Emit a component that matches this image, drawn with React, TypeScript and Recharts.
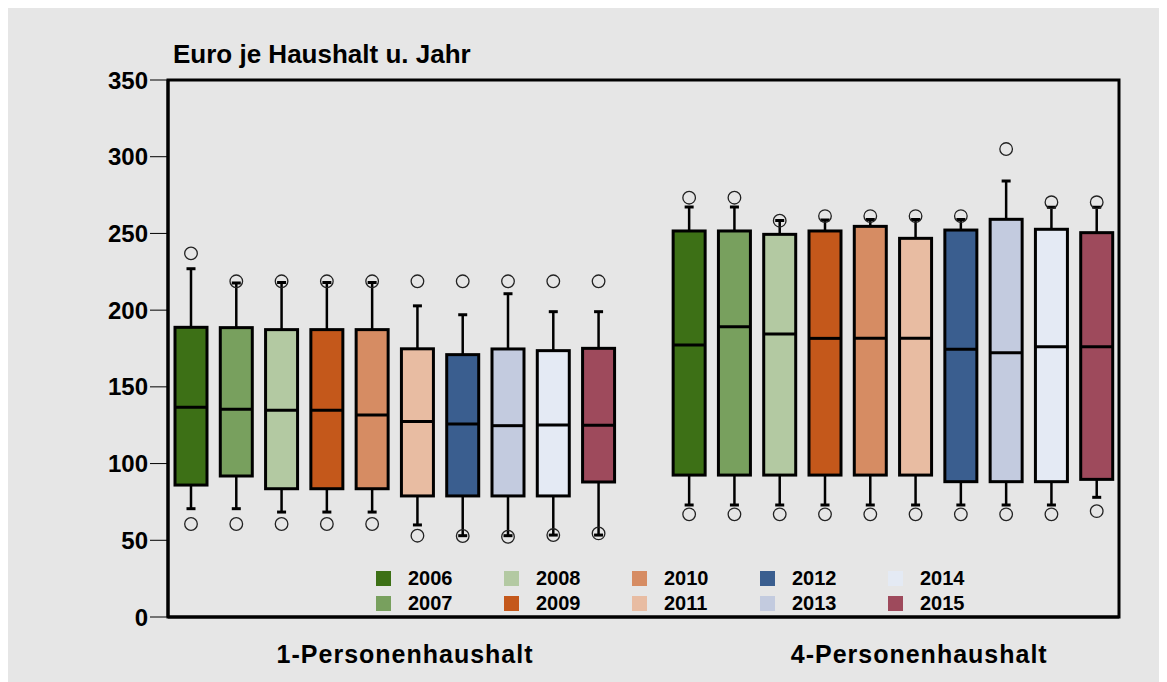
import React from 'react';
import { BarChart, Bar, XAxis, YAxis, Legend, ReferenceArea } from 'recharts';

const FONT = '"Liberation Sans", Arial, Helvetica, sans-serif';

// Categories
const years = ['2006', '2007', '2008', '2009', '2010', '2011', '2012', '2013', '2014', '2015'];
const groups = ['1-Personenhaushalt', '4-Personenhaushalt'];
const yTicks = [0, 50, 100, 150, 200, 250, 300, 350];
const colors = ['#3d7016', '#78a05e', '#b3c9a2', '#c4581b', '#d68c63', '#e8bca2', '#3a5e8f', '#c3cbdf', '#e4eaf4', '#9e4a5c'];

// 1-Personenhaushalt
const p1OutHigh = [237, 218.8, 218.8, 218.8, 218.8, 218.8, 218.8, 218.8, 218.8, 218.8];
const p1High = [227, 217.7, 218, 218, 218, 202.8, 197, 210.7, 199, 199];
const p1Q3 = [188.8, 188.6, 187.3, 187.3, 187.3, 174.8, 171, 174.7, 173.6, 175.1];
const p1Median = [136.7, 135.4, 134.7, 134.7, 131.7, 127.5, 125.8, 124.7, 125.1, 124.9];
const p1Q1 = [86, 91.9, 83.6, 83.6, 83.6, 78.9, 78.9, 78.9, 78.9, 88];
const p1Low = [70.6, 70.6, 68.4, 68.4, 68.4, 60, 53, 53, 53.4, 53.4];
const p1OutLow = [60.6, 60.6, 60.6, 60.6, 60.6, 53, 52.8, 52.3, 53.4, 54.5];

// 4-Personenhaushalt
const p4OutHigh = [273.3, 273.3, 258.3, 261.3, 261.3, 261.3, 261.3, 305, 270.3, 270.3];
const p4High = [267.2, 267.2, 258.5, 258.7, 259, 259, 259, 284.2, 267, 267];
const p4Q3 = [251.6, 251.6, 249.4, 251.6, 254.6, 246.8, 252.2, 259.2, 252.7, 250.5];
const p4Median = [177.3, 189.2, 184.4, 181.6, 181.6, 181.6, 174.5, 172.3, 176.2, 176.2];
const p4Q1 = [92.5, 92.5, 92.5, 92.5, 92.5, 92.5, 88.2, 88.2, 88.2, 89.7];
const p4Low = [73, 73, 73, 73, 73, 73, 73, 73, 73, 78];
const p4OutLow = [66.9, 66.9, 66.9, 66.9, 66.9, 66.9, 66.9, 66.9, 66.9, 69];

const series = [
  { outHigh: p1OutHigh, high: p1High, q3: p1Q3, median: p1Median, q1: p1Q1, low: p1Low, outLow: p1OutLow },
  { outHigh: p4OutHigh, high: p4High, q3: p4Q3, median: p4Median, q1: p4Q1, low: p4Low, outLow: p4OutLow },
];

type Row = {
  slot: string;
  group?: number;
  year?: string;
  color?: string;
  q1?: number;
  q3?: number;
  median?: number;
  low?: number;
  high?: number;
  outLow?: number;
  outHigh?: number;
};

const rows: Row[] = [];
groups.forEach((_, gi) => {
  if (gi > 0) rows.push({ slot: 'gap' });
  const s = series[gi];
  years.forEach((y, i) => {
    rows.push({
      slot: `${gi}-${y}`,
      group: gi,
      year: y,
      color: colors[i],
      q1: s.q1[i],
      q3: s.q3[i],
      median: s.median[i],
      low: s.low[i],
      high: s.high[i],
      outLow: s.outLow[i],
      outHigh: s.outHigh[i],
    });
  });
});

const BoxShape = (props: any) => {
  const { x, y, width, height, payload } = props;
  if (!payload || payload.q1 == null || !height) return null;
  const k = height / (payload.q3 - payload.q1);
  const py = (v: number) => y + (payload.q3 - v) * k;
  const cx = x + width / 2;
  const cap = 4.5;
  return (
    <g>
      <line x1={cx} x2={cx} y1={py(payload.q3)} y2={py(payload.high)} stroke="#000" strokeWidth={2.5} />
      <line x1={cx - cap} x2={cx + cap} y1={py(payload.high)} y2={py(payload.high)} stroke="#000" strokeWidth={3} />
      <line x1={cx} x2={cx} y1={py(payload.q1)} y2={py(payload.low)} stroke="#000" strokeWidth={2.5} />
      <line x1={cx - cap} x2={cx + cap} y1={py(payload.low)} y2={py(payload.low)} stroke="#000" strokeWidth={3} />
      <rect x={x} y={y} width={width} height={height} fill={payload.color} stroke="#000" strokeWidth={3} />
      <line x1={x} x2={x + width} y1={py(payload.median)} y2={py(payload.median)} stroke="#000" strokeWidth={3} />
      <circle cx={cx} cy={py(payload.outHigh)} r={6.3} fill="none" stroke="#222" strokeWidth={1.3} />
      <circle cx={cx} cy={py(payload.outLow)} r={6.3} fill="none" stroke="#222" strokeWidth={1.3} />
    </g>
  );
};

const labelSlots: Record<string, { text: string; dx: number }> = {
  '0-2011': { text: groups[0], dx: -12 },
  '1-2011': { text: groups[1], dx: 4 },
};

const GroupTick = (props: any) => {
  const { x, y, payload } = props;
  const info = labelSlots[payload?.value];
  if (!info) return null;
  return (
    <text
      x={x + info.dx}
      y={y + 46}
      textAnchor="middle"
      fill="#000"
      fontFamily={FONT}
      fontWeight="bold"
      fontSize={25}
      letterSpacing={1}
    >
      {info.text}
    </text>
  );
};

const renderLegend = () => (
  <div style={{ position: 'relative', width: 660, height: 50, fontFamily: FONT, fontWeight: 'bold', fontSize: 20, color: '#000' }}>
    {years.map((yr, i) => {
      const col = Math.floor(i / 2);
      const row = i % 2;
      return (
        <div
          key={yr}
          style={{ position: 'absolute', left: col * 128, top: row * 25, height: 25, display: 'flex', alignItems: 'center' }}
        >
          <span style={{ display: 'inline-block', width: 15, height: 15, background: colors[i], marginRight: 17 }} />
          <span style={{ lineHeight: '25px' }}>{yr}</span>
        </div>
      );
    })}
  </div>
);

export default function App() {
  return (
    <div style={{ position: 'relative', width: 1159, height: 674, background: '#e6e6e6', overflow: 'hidden' }}>
      <div
        style={{
          position: 'absolute',
          left: 165,
          top: 33,
          fontFamily: FONT,
          fontWeight: 'bold',
          fontSize: 26,
          lineHeight: '26px',
          color: '#000',
          whiteSpace: 'nowrap',
        }}
      >
        Euro je Haushalt u. Jahr
      </div>
      <BarChart width={1159} height={674} data={rows} margin={{ top: 72, right: 48, bottom: 0, left: 0 }}>
        <XAxis
          dataKey="slot"
          type="category"
          height={65}
          interval={0}
          tickSize={0}
          tickMargin={0}
          tickLine={false}
          axisLine={{ stroke: '#000', strokeWidth: 3 }}
          tick={<GroupTick />}
        />
        <YAxis
          type="number"
          domain={[0, 350]}
          ticks={yTicks}
          width={160}
          tickSize={18}
          tickMargin={2}
          tickLine={{ stroke: '#000', strokeWidth: 1 }}
          axisLine={{ stroke: '#000', strokeWidth: 3 }}
          tick={{ fill: '#000', fontSize: 24, fontWeight: 'bold', fontFamily: FONT }}
          allowDataOverflow
        />
        <ReferenceArea y1={0} y2={350} fill="none" fillOpacity={0} stroke="#000" strokeWidth={3} />
        <Legend
          layout="horizontal"
          verticalAlign="middle"
          align="center"
          content={renderLegend}
          wrapperStyle={{ left: 368, top: 557.5, width: 660, height: 50 }}
        />
        <Bar
          dataKey={(d: Row) => (d.q1 == null ? null : [d.q1, d.q3])}
          barSize={32}
          isAnimationActive={false}
          shape={BoxShape}
        />
      </BarChart>
    </div>
  );
}
